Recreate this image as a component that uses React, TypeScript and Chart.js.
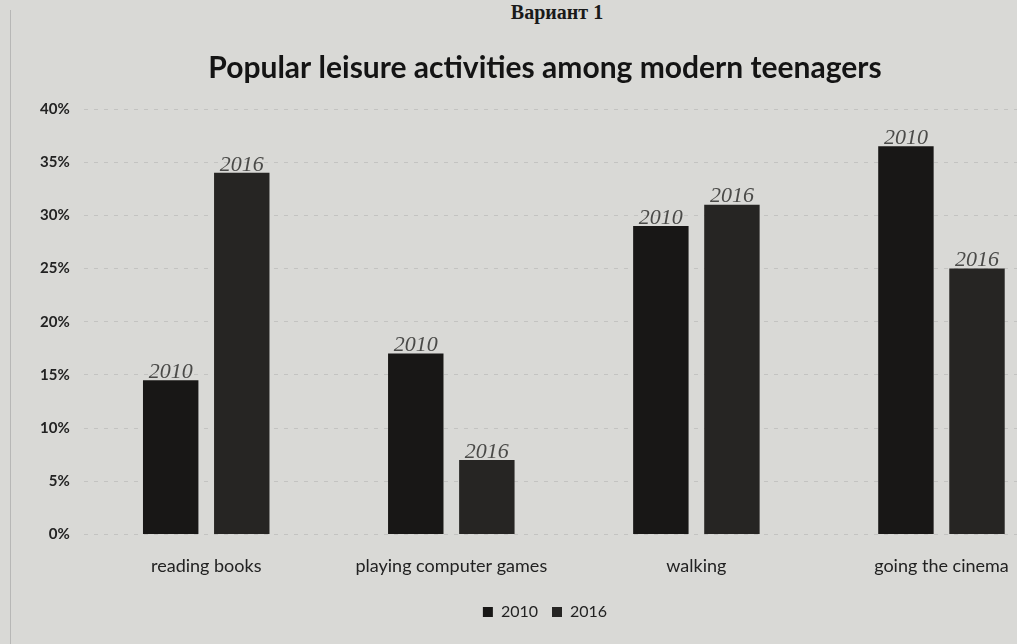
import React, { useEffect, useRef } from "react";
import { Chart, registerables } from "chart.js";

Chart.register(...registerables);

const categories = ["reading books", "playing computer games", "walking", "going the cinema"];
const seriesNames = ["2010", "2016"];
const values2010 = [14.5, 17, 29, 36.5];
const values2016 = [34, 7, 31, 25];
const yTicks = [0, 5, 10, 15, 20, 25, 30, 35, 40];

const BG = "#d9d9d6";

const handLabels = {
  id: "handLabels",
  afterDatasetsDraw(chart: any) {
    const ctx = chart.ctx;
    ctx.save();
    ctx.font = "italic 22px 'Liberation Serif'";
    ctx.fillStyle = "#4a4a48";
    ctx.textAlign = "center";
    ctx.textBaseline = "bottom";
    chart.data.datasets.forEach((ds: any, i: number) => {
      const meta = chart.getDatasetMeta(i);
      meta.data.forEach((bar: any) => {
        ctx.fillText(ds.label, bar.x, bar.y + 3);
      });
    });
    ctx.restore();
  },
};

export default function App() {
  const ref = useRef<HTMLCanvasElement | null>(null);

  useEffect(() => {
    document.body.style.margin = "0";
    document.body.style.overflow = "hidden";
    document.body.style.background = BG;
    if (!ref.current) return;
    const chart = new Chart(ref.current, {
      type: "bar",
      data: {
        labels: categories,
        datasets: [
          { label: seriesNames[0], data: values2010, backgroundColor: "#181716", borderWidth: 0 },
          { label: seriesNames[1], data: values2016, backgroundColor: "#262523", borderWidth: 0 },
        ],
      },
      options: {
        animation: false,
        responsive: false,
        maintainAspectRatio: false,
        datasets: { bar: { categoryPercentage: 0.58, barPercentage: 0.78 } },
        layout: { padding: { top: 50, left: 26, right: 16, bottom: 14 } },
        plugins: {
          title: {
            display: true,
            text: "Popular leisure activities among modern teenagers",
            color: "#141414",
            font: { family: "Lato", size: 30, weight: "bold" },
            padding: { top: 0, bottom: 23 },
          },
          legend: {
            display: true,
            position: "bottom",
            labels: {
              color: "#222",
              font: { family: "Lato", size: 16 },
              boxWidth: 10,
              boxHeight: 10,
              padding: 14,
            },
          },
          tooltip: { enabled: false },
        },
        scales: {
          x: {
            grid: { display: false },
            border: { display: false },
            ticks: { color: "#222", font: { family: "Lato", size: 18 }, padding: 13 },
          },
          y: {
            min: 0,
            max: 40,
            afterBuildTicks: (axis: any) => {
              axis.ticks = yTicks.map((v) => ({ value: v }));
            },
            grid: { color: "rgba(140,140,140,0.28)", drawTicks: false },
            border: { display: false, dash: [4, 6] },
            ticks: {
              color: "#222",
              font: { family: "Lato", size: 15, weight: "bold" },
              padding: 14,
              callback: (v: any) => v + "%",
            },
          },
        },
      },
      plugins: [handLabels],
    });
    return () => chart.destroy();
  }, []);

  return (
    <div style={{ position: "relative", width: 1080, height: 644, background: BG, overflow: "hidden" }}>
      <div
        style={{
          position: "absolute",
          top: 0,
          left: 0,
          width: 1114,
          textAlign: "center",
          fontFamily: "'Liberation Serif', serif",
          fontWeight: "bold",
          fontSize: 20,
          color: "#1a1a1a",
          lineHeight: "24px",
        }}
      >
        Вариант 1
      </div>
      <div style={{ position: "absolute", left: 10, top: 10, width: 1, height: 634, background: "rgba(150,150,150,0.5)" }} />
      <canvas ref={ref} width={1080} height={644} style={{ position: "absolute", left: 0, top: 0 }} />
    </div>
  );
}
